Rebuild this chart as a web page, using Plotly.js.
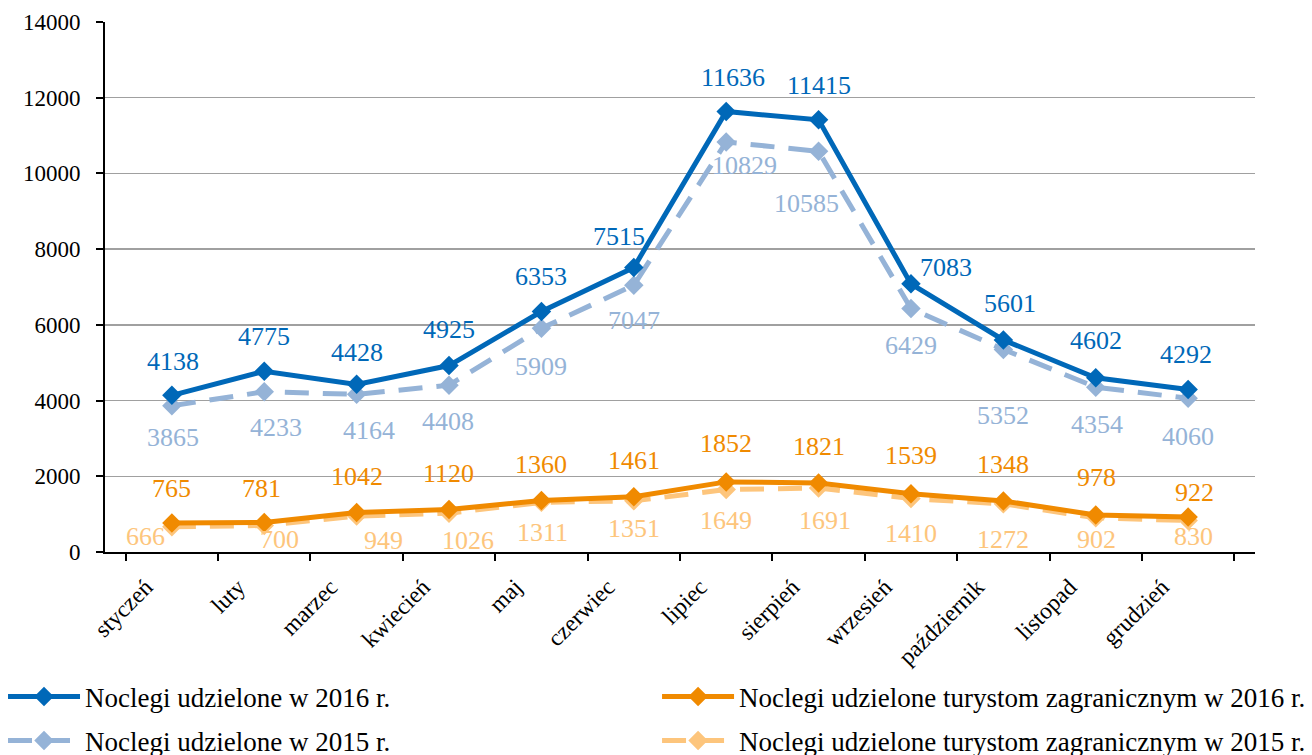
<!DOCTYPE html>
<html>
<head>
<meta charset="utf-8">
<script src="https://cdn.plot.ly/plotly-3.0.1.min.js"></script>
<style>html,body{margin:0;padding:0;background:#fff;}#chart{width:1312px;height:755px;}</style>
</head>
<body>
<div id="chart"></div>
<script>
// ---- data ----
const months = ["styczeń","luty","marzec","kwiecień","maj","czerwiec","lipiec","sierpień","wrzesień","październik","listopad","grudzień"];
const total2016 = [4138,4775,4428,4925,6353,7515,11636,11415,7083,5601,4602,4292];
const total2015 = [3865,4233,4164,4408,5909,7047,10829,10585,6429,5352,4354,4060];
const foreign2016 = [765,781,1042,1120,1360,1461,1852,1821,1539,1348,978,922];
const foreign2015 = [666,700,949,1026,1311,1351,1649,1691,1410,1272,902,830];
const yTicks = [0,2000,4000,6000,8000,10000,12000,14000];

// ---- label placement (pixel offsets, layout only) ----
const offT16 = {dx:[1,0,0,0,0,-15,7,0,35,7,0,-2], dy:[34,35,32,36,35,31,34,34,16,36,37,35]};
const offT15 = {dx:[1,12,12,-1,0,0,18,-12,0,0,1,0], dy:[-32,-36,-36,-36,-38,-35,-23,-52,-37,-66,-37,-38]};
const offF16 = {dx:[0,-3,0,-1,0,0,0,0,0,0,1,6], dy:[35,34,36,36,36,36,38,37,38,36,37,25]};
const offF15 = {dx:[-26,15,27,19,1,0,0,6,0,0,1,5], dy:[-10,-14,-24,-27,-30,-28,-31,-33,-35,-36,-22,-16]};

const C16 = "#0068b8", C15 = "#95b3d7", O16 = "#f08a00", O15 = "#fdc57c";
const serif = "Liberation Serif";

function tr(name, y, color, dash, lg){
  return {type:"scatter", mode:"lines+markers", x:months, y:y, name:name, legend:lg,
    line:{color:color, width:5, dash:dash},
    marker:{symbol:"diamond", size:15, color:color}};
}
const traces = [
  tr("Noclegi udzielone w 2015 r.", total2015, C15, "24px,14px", "legend2"),
  tr("Noclegi udzielone turystom zagranicznym w 2015 r.", foreign2015, O15, "24px,14px", "legend4"),
  tr("Noclegi udzielone w 2016 r.", total2016, C16, "solid", "legend"),
  tr("Noclegi udzielone turystom zagranicznym w 2016 r.", foreign2016, O16, "solid", "legend3")
];

const ann = [];
function addLabels(vals, color, off){
  vals.forEach((v,i)=>{
    ann.push({x:months[i], y:v, xref:"x", yref:"y", text:String(v), showarrow:false,
      xshift:off.dx[i], yshift:off.dy[i], font:{family:serif, size:26, color:color}});
  });
}
addLabels(total2016, C16, offT16);
addLabels(total2015, C15, offT15);
addLabels(foreign2016, O16, offF16);
addLabels(foreign2015, O15, offF15);

function leg(x, y){
  return {xref:"container", yref:"container", x:x, y:y, xanchor:"left", yanchor:"middle",
    orientation:"v", itemwidth:72, font:{family:serif, size:27, color:"#000"},
    bgcolor:"rgba(0,0,0,0)", borderwidth:0};
}

const layout = {
  width:1312, height:755,
  margin:{l:105, r:57, t:22, b:203, autoexpand:false},
  paper_bgcolor:"#fff", plot_bgcolor:"#fff",
  showlegend:true,
  font:{family:serif, size:22, color:"#000"},
  xaxis:{type:"category", tickson:"boundaries", ticks:"outside", ticklen:7, tickwidth:2, tickcolor:"#000",
    showline:true, linecolor:"#000", linewidth:2, showgrid:false, tickangle:-45,
    ticklabelshift:-26, ticklabelstandoff:10,
    tickfont:{family:serif, size:23.5, color:"#000"}, fixedrange:true},
  yaxis:{range:[0,14000], tickvals:yTicks, ticktext:yTicks.map(String), ticks:"outside", ticklen:7, tickwidth:2,
    tickcolor:"#000", showline:true, linecolor:"#000", linewidth:2, showgrid:true, gridcolor:"#a0a0a0", gridwidth:1.5,
    zeroline:false, tickfont:{family:serif, size:23, color:"#000"}, ticklabelstandoff:11},
  legend: leg(0.0023, 1 - 697/755),
  legend2: leg(0.0023, 1 - 741/755),
  legend3: leg(0.5008, 1 - 697/755),
  legend4: leg(0.5008, 1 - 741/755),
  annotations:ann
};
Plotly.newPlot("chart", traces, layout, {displayModeBar:false, staticPlot:true});
</script>
</body>
</html>
